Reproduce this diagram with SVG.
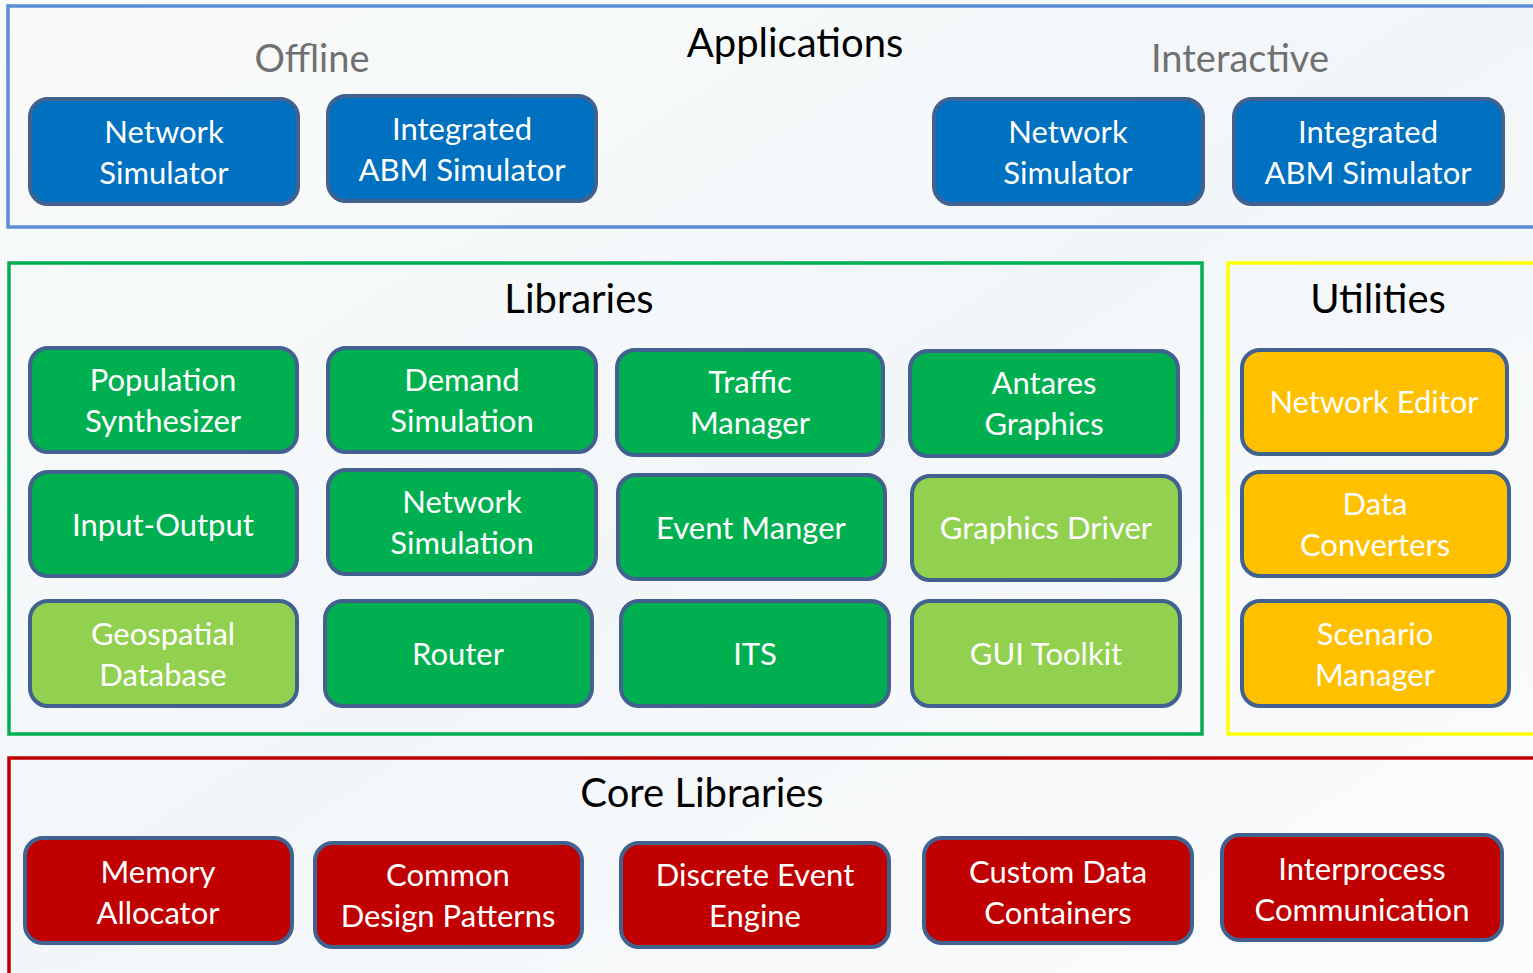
<svg xmlns="http://www.w3.org/2000/svg" width="1533" height="973" viewBox="0 0 1533 973">
<defs>
<linearGradient id="bg" x1="0" y1="0" x2="1" y2="1">
<stop offset="0" stop-color="#f9fbfa"/>
<stop offset="0.5" stop-color="#f3f6f9"/>
<stop offset="1" stop-color="#fbfcfc"/>
</linearGradient>
<style>
.sec{fill:none;stroke-width:3.5}
.node rect{stroke:#41618f;stroke-width:4}
.blue rect{fill:#0070c0}
.green rect{fill:#00b050}
.lgreen rect{fill:#92d050}
.orange rect{fill:#ffc000}
.red rect{fill:#c00000}
.node text{fill:#ffffff;font-family:Lato,"Open Sans","Liberation Sans",sans-serif;font-size:31px;text-anchor:middle}
.title{fill:#000000;font-family:Lato,"Open Sans","Liberation Sans",sans-serif;font-size:40px;text-anchor:middle}
.sub{fill:#707070;font-family:Lato,"Open Sans","Liberation Sans",sans-serif;font-size:38px;text-anchor:middle}
</style>
</defs>
<rect x="0" y="0" width="1533" height="973" fill="url(#bg)"/>
<g id="sections">
<rect class="sec" x="8" y="6" width="1540" height="221" stroke="#5b8dd6"/>
<rect class="sec" x="9" y="263" width="1193" height="471" stroke="#00b050"/>
<rect class="sec" x="1228" y="263" width="320" height="471" stroke="#ffff00"/>
<rect class="sec" x="9" y="758" width="1540" height="230" stroke="#c00000"/>
<text class="title" x="795" y="57">Applications</text>
<text class="sub" x="312" y="72">Offline</text>
<text class="sub" x="1240" y="72">Interactive</text>
<text class="title" x="579" y="313">Libraries</text>
<text class="title" x="1378" y="313">Utilities</text>
<text class="title" x="702" y="807">Core Libraries</text>
</g>
<g id="connectors"></g>

<g id="app-offline-netsim" class="node blue"><rect x="30" y="99" width="268" height="105" rx="18"/><text x="164" y="143">Network</text><text x="164" y="184">Simulator</text></g>
<g id="app-offline-abm" class="node blue"><rect x="328" y="96" width="268" height="105" rx="18"/><text x="462" y="140">Integrated</text><text x="462" y="181">ABM Simulator</text></g>
<g id="app-inter-netsim" class="node blue"><rect x="934" y="99" width="269" height="105" rx="18"/><text x="1068" y="143">Network</text><text x="1068" y="184">Simulator</text></g>
<g id="app-inter-abm" class="node blue"><rect x="1234" y="99" width="269" height="105" rx="18"/><text x="1368" y="143">Integrated</text><text x="1368" y="184">ABM Simulator</text></g>

<g id="lib-popsyn" class="node green"><rect x="30" y="348" width="267" height="104" rx="18"/><text x="163" y="391">Population</text><text x="163" y="432">Synthesizer</text></g>
<g id="lib-demand" class="node green"><rect x="328" y="348" width="268" height="104" rx="18"/><text x="462" y="391">Demand</text><text x="462" y="432">Simulation</text></g>
<g id="lib-traffic" class="node green"><rect x="617" y="350" width="266" height="105" rx="18"/><text x="750" y="393">Traffic</text><text x="750" y="434">Manager</text></g>
<g id="lib-antares" class="node green"><rect x="910" y="351" width="268" height="105" rx="18"/><text x="1044" y="394">Antares</text><text x="1044" y="435">Graphics</text></g>

<g id="lib-io" class="node green"><rect x="30" y="472" width="267" height="104" rx="18"/><text x="163" y="536">Input-Output</text></g>
<g id="lib-netsim" class="node green"><rect x="328" y="470" width="268" height="104" rx="18"/><text x="462" y="513">Network</text><text x="462" y="554">Simulation</text></g>
<g id="lib-event" class="node green"><rect x="618" y="475" width="267" height="104" rx="18"/><text x="751" y="539">Event Manger</text></g>
<g id="lib-gdriver" class="node lgreen"><rect x="912" y="476" width="268" height="104" rx="18"/><text x="1046" y="539">Graphics Driver</text></g>

<g id="lib-geo" class="node lgreen"><rect x="30" y="601" width="267" height="105" rx="18"/><text x="163" y="645">Geospatial</text><text x="163" y="686">Database</text></g>
<g id="lib-router" class="node green"><rect x="325" y="601" width="267" height="105" rx="18"/><text x="458" y="665">Router</text></g>
<g id="lib-its" class="node green"><rect x="621" y="601" width="268" height="105" rx="18"/><text x="755" y="665">ITS</text></g>
<g id="lib-gui" class="node lgreen"><rect x="912" y="601" width="268" height="105" rx="18"/><text x="1046" y="665">GUI Toolkit</text></g>

<g id="util-neteditor" class="node orange"><rect x="1242" y="350" width="265" height="104" rx="18"/><text x="1374" y="413">Network Editor</text></g>
<g id="util-converters" class="node orange"><rect x="1242" y="472" width="267" height="104" rx="18"/><text x="1375" y="515">Data</text><text x="1375" y="556">Converters</text></g>
<g id="util-scenario" class="node orange"><rect x="1242" y="601" width="267" height="105" rx="18"/><text x="1375" y="645">Scenario</text><text x="1375" y="686">Manager</text></g>

<g id="core-memory" class="node red"><rect x="25" y="838" width="267" height="105" rx="18"/><text x="158" y="883">Memory</text><text x="158" y="924">Allocator</text></g>
<g id="core-patterns" class="node red"><rect x="315" y="843" width="267" height="104" rx="18"/><text x="448" y="886">Common</text><text x="448" y="927">Design Patterns</text></g>
<g id="core-des" class="node red"><rect x="621" y="843" width="268" height="104" rx="18"/><text x="755" y="886">Discrete Event</text><text x="755" y="927">Engine</text></g>
<g id="core-containers" class="node red"><rect x="924" y="838" width="268" height="105" rx="18"/><text x="1058" y="883">Custom Data</text><text x="1058" y="924">Containers</text></g>
<g id="core-ipc" class="node red"><rect x="1222" y="835" width="280" height="105" rx="18"/><text x="1362" y="880">Interprocess</text><text x="1362" y="921">Communication</text></g>
</svg>
